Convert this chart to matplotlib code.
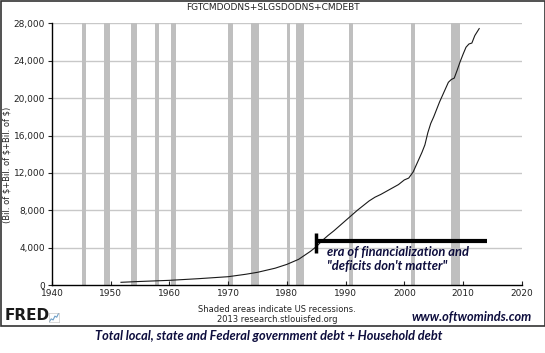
import matplotlib
matplotlib.use("Agg")
import matplotlib.pyplot as plt
from matplotlib.ticker import FuncFormatter

years = [1951.75, 1955, 1960, 1965, 1970, 1973, 1975, 1978, 1980, 1982, 1984, 1985,
         1986, 1987, 1988, 1989, 1990, 1991, 1992, 1993, 1994, 1995, 1996, 1997,
         1998, 1999, 2000, 2000.75, 2001.5, 2002, 2002.5, 2003, 2003.5, 2004, 2004.5,
         2005, 2005.5, 2006, 2006.5, 2007, 2007.5, 2008, 2008.5, 2009, 2009.5, 2010,
         2010.5, 2011, 2011.5, 2012, 2012.75]
debt = [290, 380, 500, 680, 890, 1150, 1360, 1800, 2210, 2750, 3600, 4100,
        4750, 5300, 5800, 6350, 6900, 7450, 8000, 8500, 9000, 9400, 9700, 10050,
        10400, 10750, 11250, 11450, 12100, 12800, 13500, 14200, 15000, 16300, 17300,
        18000, 18800, 19600, 20300, 21000, 21700, 22000, 22150, 23000, 23900, 24700,
        25450, 25800, 25900, 26700, 27450]

rec_start = [1945.1, 1948.9, 1953.5, 1957.6, 1960.3, 1969.9, 1973.9, 1980.0, 1981.5, 1990.5, 2001.2, 2007.9]
rec_end = [1945.75, 1949.8, 1954.4, 1958.3, 1961.1, 1970.9, 1975.2, 1980.5, 1982.9, 1991.2, 2001.9, 2009.5]

x_ticks = [1940, 1950, 1960, 1970, 1980, 1990, 2000, 2010, 2020]
y_ticks = [0, 4000, 8000, 12000, 16000, 20000, 24000, 28000]

era_start, era_end, era_level, era_low, era_high = 1985.0, 2014.0, 4740, 3430, 5570

fig = plt.figure(figsize=(5.45, 3.53), dpi=100)
ax = fig.add_axes([0.0954, 0.1926, 0.862, 0.741])

for s, e in zip(rec_start, rec_end):
    ax.axvspan(s, e, color="#bfbfbf", lw=0, zorder=1)
for yv in y_ticks[1:]:
    ax.axhline(yv, color="#c8c8c8", lw=1.0, zorder=0.5)

ax.plot(years, debt, color="#1a1a1a", lw=0.8, zorder=3)

ax.plot([era_start, era_end], [era_level, era_level], color="black", lw=3, solid_capstyle="butt", zorder=4)
ax.plot([era_start, era_start], [era_low, era_high], color="black", lw=2.5, solid_capstyle="butt", zorder=4)

ax.set_xlim(1940, 2020)
ax.set_ylim(0, 28000)
ax.set_xticks(x_ticks)
ax.set_yticks(y_ticks)
ax.yaxis.set_major_formatter(FuncFormatter(lambda v, p: f"{int(v):,}"))
ax.tick_params(axis="x", direction="in", length=3, labelsize=6.5, colors="#222222", pad=3)
ax.tick_params(axis="y", direction="out", length=3, labelsize=6.5, colors="#222222", pad=2)
for sp in ["top", "right"]:
    ax.spines[sp].set_visible(False)
for sp in ["left", "bottom"]:
    ax.spines[sp].set_color("black")
    ax.spines[sp].set_linewidth(1.0)

ax.set_ylabel("(Bil. of $+Bil. of $+Bil. of $)", fontsize=6, color="#222222")
ax.yaxis.set_label_coords(-0.087, 0.46)

fig.text(0.5, 0.978, "FGTCMDODNS+SLGSDODNS+CMDEBT", ha="center", va="center", fontsize=6.5, color="#222222")

ax.text(1986.8, 2800, "era of financialization and\n\"deficits don't matter\"", fontsize=9.3,
        style="italic", weight="bold", color="#0d0d3d", family="Lato", va="center", ha="left",
        linespacing=1.2, zorder=5)

fig.text(277 / 545, 1 - 309 / 353, "Shaded areas indicate US recessions.", ha="center", va="center", fontsize=6, color="#222222")
fig.text(277 / 545, 1 - 319 / 353, "2013 research.stlouisfed.org", ha="center", va="center", fontsize=6, color="#222222")

fig.text(532 / 545, 1 - 317 / 353, "www.oftwominds.com", ha="right", va="center", fontsize=9.2,
         style="italic", weight="bold", color="#0d0d3d", family="Lato")
fig.text(269 / 545, 1 - 336 / 353, "Total local, state and Federal government debt + Household debt", ha="center",
         va="center", fontsize=9.2, style="italic", weight="bold", color="#0d0d3d", family="Lato")

fig.text(5 / 545, 1 - 315 / 353, "FRED", ha="left", va="center", fontsize=11, weight="bold", color="#1a1a1a")
icon = fig.add_axes([49 / 545, 1 - 322 / 353, 10 / 545, 9 / 353])
icon.plot([0, 1, 2, 3, 4, 5], [0, 1, 0.6, 2, 1.6, 3], color="#6fa0c8", lw=0.8)
icon.set_xticks([]); icon.set_yticks([])
for sp in icon.spines.values():
    sp.set_color("#bbbbbb"); sp.set_linewidth(0.4)

frame = plt.Rectangle((0.5 / 545, 1 - 326 / 353), 544 / 545, 326 / 353 - 0.5 / 353, transform=fig.transFigure,
                      fill=False, edgecolor="#333333", lw=1.2)
fig.add_artist(frame)

fig.savefig("out.png", dpi=100)
